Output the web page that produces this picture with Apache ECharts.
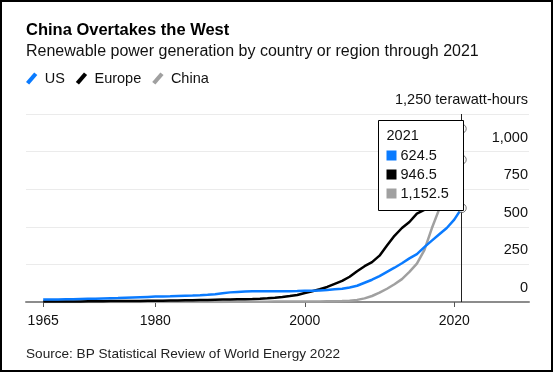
<!DOCTYPE html>
<html><head><meta charset="utf-8">
<script src="https://cdn.jsdelivr.net/npm/echarts@6/dist/echarts.min.js"></script>
<style>
html,body{margin:0;padding:0;background:#fff}
#chart{position:absolute;left:0;top:0;width:553px;height:372px}
#frame{position:absolute;left:0;top:0;width:553px;height:372px;box-sizing:border-box;border:2px solid #000;pointer-events:none;z-index:10}
</style></head>
<body><div id="chart"></div><div id="frame"></div>
<script>
const years = [1965,1966,1967,1968,1969,1970,1971,1972,1973,1974,1975,1976,1977,1978,1979,
  1980,1981,1982,1983,1984,1985,1986,1987,1988,1989,1990,1991,1992,1993,1994,1995,1996,1997,1998,1999,
  2000,2001,2002,2003,2004,2005,2006,2007,2008,2009,2010,2011,2012,2013,2014,2015,2016,2017,2018,2019,2020,2021];
const usValues = [16,17,17,18,19,20,21,22,24,25,26,28,30,32,34,
  36,37,38,40,42,43,45,48,52,58,64,67,70,71,72,72,72,71,72,73,
  75,74,77,80,84,88,97,108,128,148,172,200,228,258,290,318,365,408,450,492,548,624.5];
const europeValues = [3,3,3,4,4,4,5,5,5,6,6,6,7,7,8,
  8,9,10,10,11,12,13,14,15,16,17,18,19,20,22,25,29,34,40,47,
  60,72,85,100,120,140,168,205,238,265,308,375,440,492,532,588,612,690,735,812,895,946.5];
const chinaValues = [0,0,0,0,0,0,0,0,0,0,0,0,0,0,0,
  0,0,0,0,0,0,0,0,0,0,1,1,1,2,2,2,3,3,3,3,
  3,4,4,5,5,6,9,14,24,40,62,88,118,152,200,255,345,490,619,770,930,1152.5];
const seriesNames = ['US','Europe','China'];
const seriesColors = ['#0a7bff','#000000','#a0a0a0'];
const xTickYears = [1965,1980,2000,2020];
const yTicks = [0,250,500,750,1000,1250];

const FONT = "'Liberation Sans', Arial, Helvetica, sans-serif";
const pair = v => years.map((y,i)=>[y, v[i]]);
const allValues = [usValues, europeValues, chinaValues];
const lastYear = years[years.length-1];
const fmt = v => v.toLocaleString('en-US',{minimumFractionDigits:1, maximumFractionDigits:1});

const chart = echarts.init(document.getElementById('chart'), null, {renderer:'canvas'});

const lineSeries = seriesNames.map((n,k)=>({
  name:n, type:'line', data: pair(allValues[k]), showSymbol:false, symbol:'none',
  lineStyle:{color:seriesColors[k], width:2.5}, itemStyle:{color:seriesColors[k]},
  z: 3 + (k===0?2:(k===1?1:0)), silent:true, animation:false
}));

const tipX = 378.5, tipY = 120.5, tipW = 85, tipH = 90;
const tipChildren = [
  {type:'rect', z:100, shape:{x:tipX, y:tipY, width:tipW, height:tipH}, style:{fill:'#fff', stroke:'#000', lineWidth:1}},
  {type:'text', z:101, x:tipX+8, y:tipY+15, style:{text:String(lastYear), font:'14.5px '+FONT, fill:'#111', verticalAlign:'middle'}}
];
allValues.forEach((v,k)=>{
  const cy = tipY + 35 + k*19;
  tipChildren.push({type:'rect', z:101, shape:{x:tipX+8, y:cy-5, width:10, height:10}, style:{fill:seriesColors[k]}});
  tipChildren.push({type:'text', z:101, x:tipX+22, y:cy, style:{text:fmt(v[v.length-1]), font:'14.5px '+FONT, fill:'#111', verticalAlign:'middle'}});
});

chart.setOption({
  animation:false,
  backgroundColor:'#fff',
  title:[
    {text:'China Overtakes the West', left:26, top:20, padding:0,
     textStyle:{fontFamily:FONT, fontSize:16.5, fontWeight:'bold', color:'#000', lineHeight:20}},
    {text:'Renewable power generation by country or region through 2021', left:26, top:43, padding:0,
     textStyle:{fontFamily:FONT, fontSize:16, fontWeight:'normal', color:'#111', lineHeight:18}},
    {text:'Source: BP Statistical Review of World Energy 2022', left:26, top:346, padding:0,
     textStyle:{fontFamily:FONT, fontSize:13.6, fontWeight:'normal', color:'#222', lineHeight:16}}
  ],
  legend:{
    data: seriesNames, left:26, top:71, padding:0, itemGap:11, itemWidth:12, itemHeight:12,
    icon:'path://M0,10 L8.5,0 L11.8,2.5 L3.3,12.5 Z',
    textStyle:{fontFamily:FONT, fontSize:14.5, color:'#111', padding:[0,0,0,2]},
    selectedMode:false
  },
  grid:{left:26, right:24, top:114, bottom:70, containLabel:false},
  xAxis:{
    type:'value', min:1962.7, max:2030,
    axisLine:{show:true, lineStyle:{color:'#8c8c8c', width:2}},
    axisTick:{show:true, customValues:xTickYears, length:5, lineStyle:{color:'#555', width:1}},
    axisLabel:{customValues:xTickYears, margin:12, fontFamily:FONT, fontSize:14, color:'#111', formatter:v=>String(v)},
    splitLine:{show:false}
  },
  yAxis:{
    type:'value', position:'right', min:yTicks[0], max:yTicks[yTicks.length-1], interval:250,
    axisLine:{show:false}, axisTick:{show:false},
    axisLabel:{inside:true, margin:1, verticalAlign:'bottom', lineHeight:16, padding:[0,0,6,0],
      fontFamily:FONT, fontSize:14.5, color:'#111',
      formatter:v=> v===1250 ? '1,250 terawatt-hours' : v.toLocaleString('en-US')},
    splitLine:{show:true, lineStyle:{color:'#ebebeb', width:1}}
  },
  series:[...lineSeries,
    {type:'scatter', data: allValues.map(v=>[lastYear, v[v.length-1]]), symbol:'circle', symbolSize:9,
     itemStyle:{color:'#fff', borderColor:'#555', borderWidth:1}, z:8, silent:true,
     markLine:{silent:true, symbol:['none','none'], label:{show:false},
       lineStyle:{color:'#222', width:1, type:'solid'}, data:[{xAxis:lastYear}], animation:false}}
  ],
  graphic:[{type:'group', z:100, children: tipChildren}]
});
</script></body></html>
